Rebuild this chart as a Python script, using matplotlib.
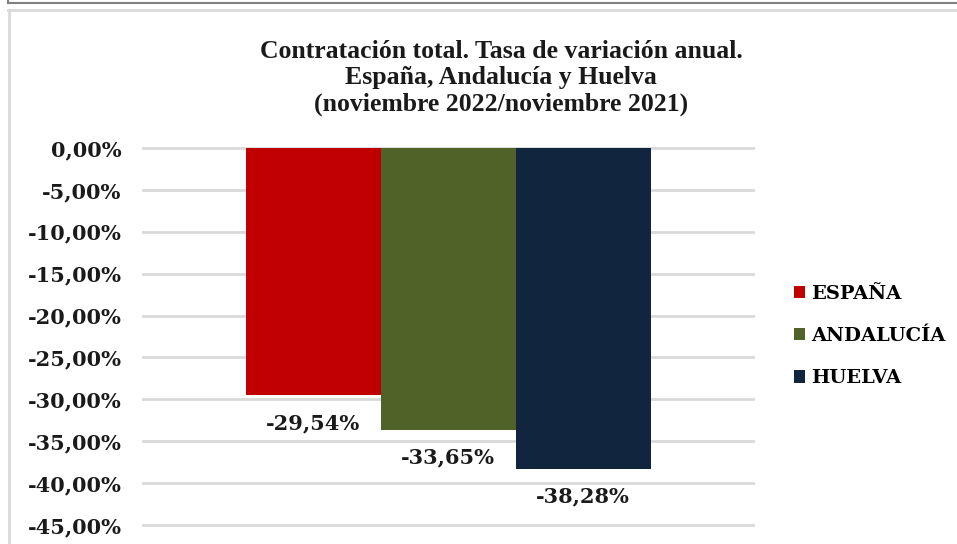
import matplotlib
matplotlib.use("Agg")
import matplotlib.pyplot as plt
from matplotlib.lines import Line2D
from matplotlib.patches import Patch

series = ["ESPAÑA", "ANDALUCÍA", "HUELVA"]
values = [-29.54, -33.65, -38.28]
colors = ["#C00000", "#4F6228", "#12253F"]
yticks = [0, -5, -10, -15, -20, -25, -30, -35, -40, -45]
title = ("Contratación total. Tasa de variación anual.\n"
         "España, Andalucía y Huelva\n"
         "(noviembre 2022/noviembre 2021)")

W, H = 957, 544
fig = plt.figure(figsize=(W / 100, H / 100), dpi=100)

def fx(px):
    return px / W

def fy(py):
    return 1 - py / H

# outer frames
fig.add_artist(Line2D([fx(8), 1], [fy(3), fy(3)], color="#7f7f7f", lw=1.5))
fig.add_artist(Line2D([fx(8), fx(8)], [1, fy(3)], color="#7f7f7f", lw=1.5))
fig.add_artist(Line2D([fx(8), 1], [fy(10), fy(10)], color="#d9d9d9", lw=2))
fig.add_artist(Line2D([fx(9), fx(9)], [fy(10), 0], color="#d9d9d9", lw=2))

left, right = 143, 753
top, bottom = 148, 525
ax = fig.add_axes([fx(left), fy(bottom), (right - left) / W, (bottom - top) / H])
ax.set_ylim(-45, 0)
ax.set_xlim(-0.5, 0.5)

w = 135 / (right - left)
for i, (s, v, c) in enumerate(zip(series, values, colors)):
    xc = (i - 1) * w
    ax.bar(xc, v, w, color=c, label=s, zorder=3)
    ax.annotate(f"{v:.2f}%".replace(".", ","), (xc, v), xytext=(0, -20),
                textcoords="offset points", ha="center", va="center",
                fontsize=15, fontweight="bold", family="DejaVu Serif",
                color="#1a1a1a")

ax.set_yticks(yticks)
ax.set_yticklabels([f"{t:.2f}%".replace(".", ",") for t in yticks],
                   fontsize=15, fontweight="bold", family="DejaVu Serif",
                   color="#1a1a1a")
ax.tick_params(axis="y", length=0, pad=15.5)
ax.set_xticks([])
for sp in ax.spines.values():
    sp.set_visible(False)
for t in yticks:
    ax.axhline(t, color="#d9d9d9", lw=2, zorder=1, clip_on=False)

fig.text(fx(501), fy(78), title, ha="center", va="center", fontsize=18.5,
         fontweight="bold", family="Liberation Serif",
         linespacing=1.2, color="#1a1a1a")

handles = [Patch(facecolor=c, edgecolor="none") for c in colors]
fig.legend(handles, series, loc="center left",
           bbox_to_anchor=(fx(776), fy(336)), frameon=False,
           handlelength=0.6, handleheight=0.6, handletextpad=0.3,
           labelspacing=1.25,
           prop={"family": "DejaVu Serif", "weight": "bold", "size": 14})

fig.savefig("out.png", dpi=100)
